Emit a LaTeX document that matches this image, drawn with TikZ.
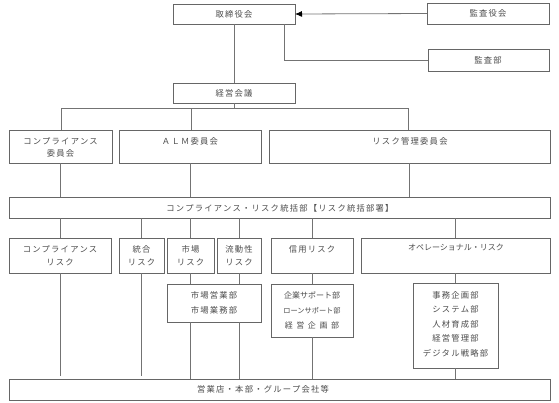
\documentclass[tikz,border=0pt]{standalone}
\usepackage{fontspec}
\newfontfamily\cjk[LetterSpace=15]{Noto Sans CJK JP}
\newfontfamily\cjkn{Noto Sans CJK JP}
\newfontfamily\cjkw[LetterSpace=45]{Noto Sans CJK JP}
\usetikzlibrary{arrows.meta}
\tikzset{
  box/.style={draw=black!60, line width=0.8pt, inner sep=0pt, outer sep=0pt, anchor=north west, fill=white},
  txt/.style={inner sep=0pt, text=black!70, font=\cjk\fontsize{8.3}{12}\selectfont, align=center},
  ln/.style={draw=black!55, line width=0.8pt},
}
\newcommand{\bx}[6]{\node[box, minimum width=#4pt, minimum height=#5pt] (#1) at (#2,#3) {#6};}
\begin{document}
\begin{tikzpicture}[x=1pt,y=-1pt]
\useasboundingbox (0,0) rectangle (559,402);
% boxes
\bx{tor}{173}{4}{122}{20}{}
\bx{kyk}{427}{3}{122}{21}{}
\bx{kbu}{428}{49}{121}{22}{}
\bx{kei}{173}{83}{122}{20}{}
\bx{ccom}{9}{130}{103}{33}{}
\bx{alm}{119}{130}{142}{33}{}
\bx{rcom}{269}{130}{281}{33}{}
\bx{tok}{9}{197}{541}{21}{}
\bx{crk}{9}{238}{102}{35}{}
\bx{tgo}{119}{238}{45}{35}{}
\bx{sjo}{167}{238}{47}{35}{}
\bx{ryu}{217}{238}{44}{35}{}
\bx{shy}{271}{238}{82}{35}{}
\bx{ope}{361}{238}{189}{35}{}
\bx{sjs}{167}{284}{94}{38}{}
\bx{shs}{271}{284}{82}{53}{}
\bx{ops}{413}{283}{85}{85}{}
\bx{bot}{9}{379}{541}{21}{}
% texts
\node[txt] (torT) at (234,14) {取締役会};
\node[txt] (kykT) at (488,13) {監査役会};
\node[txt] (kbuT) at (488,60) {監査部};
\node[txt] (keiT) at (234,93) {経営会議};
\node[txt] (ccomT) at (60.5,147) {コンプライアンス\\委員会};
\node[txt] (almT) at (190,141) {ＡＬＭ委員会};
\node[txt] (rcomT) at (410,141) {リスク管理委員会};
\node[txt] (tokT) at (280,208) {コンプライアンス・リスク統括部【リスク統括部署】};
\node[txt, font=\cjk\fontsize{8.3}{13}\selectfont] (crkT) at (60,255.5) {コンプライアンス\\リスク};
\node[txt, font=\cjk\fontsize{8.3}{13}\selectfont] (tgoT) at (141.5,255.5) {統合\\リスク};
\node[txt, font=\cjk\fontsize{8.3}{13}\selectfont] (sjoT) at (190.5,255.5) {市場\\リスク};
\node[txt, font=\cjk\fontsize{8.3}{13}\selectfont] (ryuT) at (239,255.5) {流動性\\リスク};
\node[txt] (shyT) at (312,249) {信用リスク};
\node[txt, font=\cjkn\fontsize{8}{12}\selectfont] (opeT) at (456,247) {オペレーショナル・リスク};
\node[txt, font=\cjk\fontsize{8.3}{15}\selectfont] (sjsT) at (214,303) {市場営業部\\市場業務部};
\node[txt, font=\cjkn\fontsize{8}{15}\selectfont] (shsT) at (312,310) {企業サポート部\\{\fontsize{7.2}{15}\selectfont ローンサポート部}\\{\cjkw 経営企画部}};
\node[txt, font=\cjk\fontsize{8.3}{14.5}\selectfont] (opsT) at (455.5,324) {事務企画部\\システム部\\人材育成部\\経営管理部\\デジタル戦略部};
\node[txt] (botT) at (263,389.5) {営業店・本部・グループ会社等};
% connectors
\coordinate (busL) at (61,108);
\coordinate (busA) at (191,108);
\coordinate (busR) at (408,108);
\draw[ln, -{Latex[length=7pt,width=6pt,color=black]}] (kyk.west) -- (tor.east);
\draw[ln] ([xshift=-11pt]tor.south east) |- (kbu.west);
\draw[ln] (tor.south) -- (kei.north);
\draw[ln] (kei.south) -- (kei.south |- busL);
\draw[ln] (busL) -- (busR);
\draw[ln] (busL) -- (busL |- ccom.north);
\draw[ln] (busA) -- (busA |- alm.north);
\draw[ln] (busR) -- (busR |- rcom.north);
\draw[ln] (ccom.south) -- (ccom.south |- tok.north);
\draw[ln] (alm.south) -- (alm.south |- tok.north);
\draw[ln] (rcom.south) -- (rcom.south |- tok.north);
\foreach \n in {crk,tgo,sjo,ryu,shy,ope}{
  \draw[ln] (\n.north |- tok.south) -- (\n.north);
}
\draw[ln, shorten >=3pt] (crk.south) -- (crk.south |- bot.north);
\draw[ln, shorten >=3pt] (tgo.south) -- (tgo.south |- bot.north);
\draw[ln] (sjo.south) -- (sjo.south |- sjs.north);
\draw[ln] (ryu.south) -- (ryu.south |- sjs.north);
\draw[ln] (sjo.south |- sjs.south) -- (sjo.south |- bot.north);
\draw[ln] (ryu.south |- sjs.south) -- (ryu.south |- bot.north);
\draw[ln] (shy.south) -- (shs.north);
\draw[ln] (shs.south) -- (shs.south |- bot.north);
\draw[ln] (ope.south) -- (ope.south |- ops.north);
\draw[ln] (ops.south) -- (ops.south |- bot.north);
\end{tikzpicture}
\end{document}
